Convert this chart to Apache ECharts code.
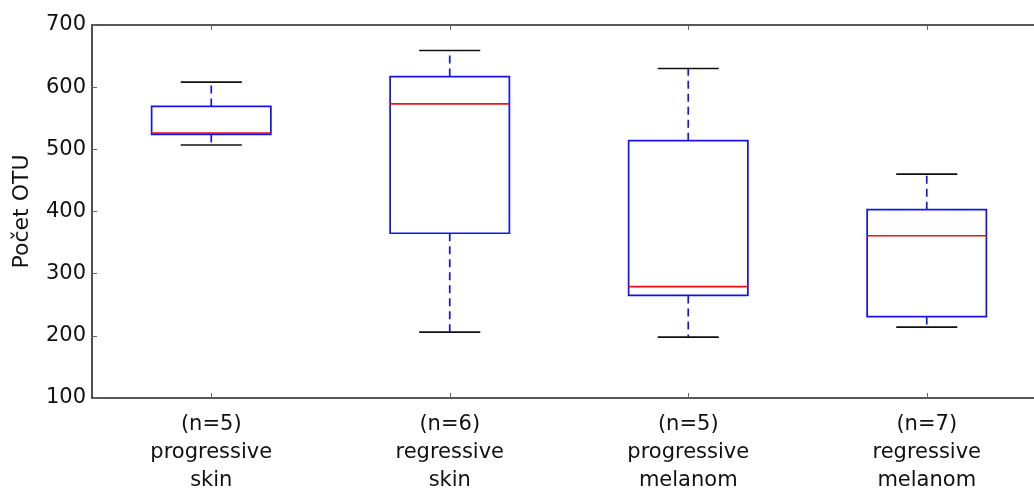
<!DOCTYPE html>
<html>
<head>
<meta charset="utf-8">
<style>
html,body{margin:0;padding:0;background:#fff;}
#chart{width:1034px;height:490px;}
</style>
<script src="https://cdn.jsdelivr.net/npm/echarts@6/dist/echarts.min.js"></script>
</head>
<body>
<div id="chart"></div>
<script>
var categories = ['(n=5)\nprogressive\nskin', '(n=6)\nregressive\nskin', '(n=5)\nprogressive\nmelanom', '(n=7)\nregressive\nmelanom'];
var whiskerLow = [507, 206, 198, 214];
var q1 = [524, 365, 265, 231];
var median = [526, 573, 279, 361];
var q3 = [569, 617, 514, 403];
var whiskerHigh = [608, 659, 630, 460];
var yTicks = [100, 200, 300, 400, 500, 600, 700];

var boxData = categories.map(function (c, i) {
  return [i, whiskerLow[i], q1[i], median[i], q3[i], whiskerHigh[i]];
});

var FONT = 'DejaVu Sans';
var chart = echarts.init(document.getElementById('chart'), null, {renderer: 'canvas'});

function renderBox(params, api) {
  var idx = api.value(0);
  var band = api.size([1, 0])[0];
  var boxHalf = band * 0.25;
  var capHalf = band * 0.128;
  var lo = api.coord([idx, api.value(1)]);
  var pq1 = api.coord([idx, api.value(2)]);
  var pm = api.coord([idx, api.value(3)]);
  var pq3 = api.coord([idx, api.value(4)]);
  var hi = api.coord([idx, api.value(5)]);
  var x = lo[0];
  var blue = '#1414e6';
  var lw = 1.7;
  return {
    type: 'group',
    children: [
      {type: 'line', shape: {x1: x, y1: pq1[1], x2: x, y2: lo[1]},
        style: {stroke: blue, lineWidth: lw, lineDash: [8, 5]}},
      {type: 'line', shape: {x1: x, y1: pq3[1], x2: x, y2: hi[1]},
        style: {stroke: blue, lineWidth: lw, lineDash: [8, 5]}},
      {type: 'line', shape: {x1: x - capHalf, y1: lo[1], x2: x + capHalf, y2: lo[1]},
        style: {stroke: '#111', lineWidth: lw}},
      {type: 'line', shape: {x1: x - capHalf, y1: hi[1], x2: x + capHalf, y2: hi[1]},
        style: {stroke: '#111', lineWidth: lw}},
      {type: 'rect', shape: {x: x - boxHalf, y: pq3[1], width: boxHalf * 2, height: pq1[1] - pq3[1]},
        style: {stroke: blue, lineWidth: lw, fill: null}},
      {type: 'line', shape: {x1: x - boxHalf, y1: pm[1], x2: x + boxHalf, y2: pm[1]},
        style: {stroke: '#ee1111', lineWidth: lw}}
    ]
  };
}

var option = {
  animation: false,
  backgroundColor: '#fff',
  grid: {left: 92, top: 25, right: -12, bottom: 92, containLabel: false, outerBoundsMode: 'none'},
  xAxis: [
    {
      type: 'category', data: categories, position: 'bottom', boundaryGap: true,
      axisLine: {show: true, lineStyle: {color: '#222', width: 1.6}},
      axisTick: {show: true, inside: true, alignWithLabel: true, length: 5, lineStyle: {color: '#666', width: 1}},
      axisLabel: {color: '#111', fontFamily: FONT, fontSize: 21, lineHeight: 28, margin: 13, interval: 0},
      splitLine: {show: false}
    },
    {
      type: 'category', data: categories, position: 'top', boundaryGap: true,
      axisLine: {show: true, lineStyle: {color: '#222', width: 1.6}},
      axisTick: {show: true, inside: true, alignWithLabel: true, length: 5, lineStyle: {color: '#666', width: 1}},
      axisLabel: {show: false},
      splitLine: {show: false}
    }
  ],
  yAxis: [
    {
      type: 'value', min: yTicks[0], max: yTicks[yTicks.length - 1], interval: 100,
      name: 'Počet OTU', nameLocation: 'middle', nameGap: 59, nameRotate: 90,
      nameTextStyle: {color: '#111', fontFamily: FONT, fontSize: 22},
      axisLine: {show: true, lineStyle: {color: '#222', width: 1.6}},
      axisTick: {show: true, inside: true, length: 5, lineStyle: {color: '#666', width: 1}},
      axisLabel: {color: '#111', fontFamily: FONT, fontSize: 21, margin: 6},
      splitLine: {show: false}
    },
    {
      type: 'value', min: yTicks[0], max: yTicks[yTicks.length - 1], interval: 100, position: 'right',
      axisLine: {show: true, lineStyle: {color: '#222', width: 1.6}},
      axisTick: {show: true, inside: true, length: 5, lineStyle: {color: '#666', width: 1}},
      axisLabel: {show: false},
      splitLine: {show: false}
    }
  ],
  series: [{
    type: 'custom',
    renderItem: renderBox,
    encode: {x: 0, y: [1, 2, 3, 4, 5]},
    data: boxData,
    clip: false
  }]
};
chart.setOption(option);
</script>
</body>
</html>
